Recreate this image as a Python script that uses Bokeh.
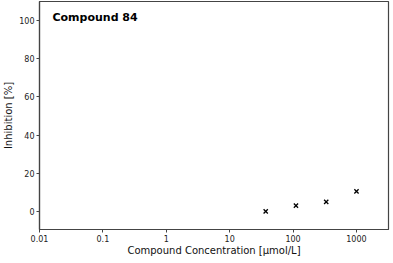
from bokeh.plotting import figure
from bokeh.models import FixedTicker, Label, Range1d
from bokeh.embed import file_html
from bokeh.resources import INLINE

# Data
concentration = [37, 111, 333, 1000]
inhibition = [0.0, 3.0, 5.0, 10.5]
x_ticks = [0.01, 0.1, 1, 10, 100, 1000]
x_tick_labels = ["0.01", "0.1", "1", "10", "100", "1000"]
y_ticks = [0, 20, 40, 60, 80, 100]
title_text = "Compound 84"

FONT = "DejaVu Sans"

p = figure(width=390, height=258, x_axis_type="log",
           x_range=Range1d(0.01, 3200), y_range=Range1d(-9.5, 110),
           output_backend="svg", toolbar_location=None,
           min_border_left=0, min_border_right=2, min_border_top=1, min_border_bottom=0)

p.scatter(concentration, inhibition, marker="x", size=6, line_color="black", line_width=1.3)

p.grid.visible = False
p.outline_line_color = "#444444"
p.outline_line_width = 1.2

p.xaxis.ticker = FixedTicker(ticks=x_ticks)
p.xaxis.major_label_overrides = {t: l for t, l in zip(x_ticks, x_tick_labels)}
p.yaxis.ticker = FixedTicker(ticks=y_ticks)

for ax in (p.xaxis, p.yaxis):
    ax.axis_line_color = "#444444"
    ax.axis_line_width = 1.2
    ax.major_tick_line_color = "#444444"
    ax.major_tick_out = 3
    ax.major_tick_in = 0
    ax.minor_tick_line_color = None
    ax.major_label_text_font = FONT
    ax.major_label_text_font_size = "8px"
    ax.major_label_text_color = "#222222"
    ax.axis_label_text_font = FONT
    ax.axis_label_text_font_size = "10px"
    ax.axis_label_text_font_style = "normal"
    ax.axis_label_text_color = "#111111"
    ax.major_label_standoff = 2
    ax.axis_label_standoff = 2

p.xaxis.axis_label_standoff = 0
p.xaxis.axis_label = "Compound Concentration [µmol/L]"
p.yaxis.axis_label = "Inhibition [%]"

p.add_layout(Label(x=0.016, y=105, text=title_text,
                   text_font=FONT, text_font_size="11px", text_font_style="bold",
                   text_color="black", text_baseline="top", text_align="left"))

open("out.html", "w").write(file_html(p, INLINE))
